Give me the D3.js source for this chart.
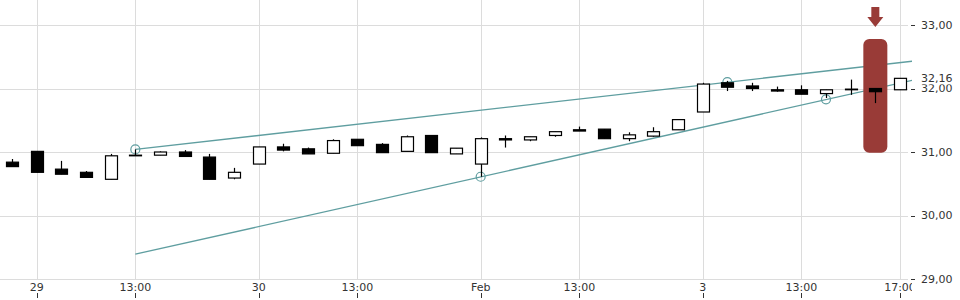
<!DOCTYPE html>
<html>
<head>
<meta charset="utf-8">
<script src="https://cdn.jsdelivr.net/npm/d3@7"></script>
<style>
  body { margin: 0; background: #fff; }
  svg { display: block; font-family: "DejaVu Sans", sans-serif; }
</style>
</head>
<body>
<svg id="chart"></svg>
<script>
var width = 960, height = 300;
var plotRight = 910, plotBottom = 279;

// hourly candles, 28 Jan 17:00 .. 3 Feb 17:00
var times = ["28 17:00",
  "29 09:00","29 10:00","29 11:00","29 12:00","29 13:00","29 14:00","29 15:00","29 16:00","29 17:00",
  "30 09:00","30 10:00","30 11:00","30 12:00","30 13:00","30 14:00","30 15:00","30 16:00","30 17:00",
  "01 09:00","01 10:00","01 11:00","01 12:00","01 13:00","01 14:00","01 15:00","01 16:00","01 17:00",
  "03 09:00","03 10:00","03 11:00","03 12:00","03 13:00","03 14:00","03 15:00","03 16:00","03 17:00"];
var open  = [30.84,31.01,30.73,30.68,30.57,30.94,30.95,31.00,30.92,30.59,30.81,31.08,31.05,30.98,31.20,31.12,31.01,31.26,30.97,
             30.81,31.21,31.19,31.26,31.35,31.36,31.21,31.25,31.35,31.63,32.09,32.04,31.98,31.98,31.92,31.99,32.00,31.98];
var high  = [30.89,31.01,30.86,30.70,30.97,31.04,31.01,31.03,30.97,30.75,31.08,31.13,31.07,31.20,31.20,31.14,31.26,31.26,31.06,
             31.23,31.26,31.24,31.32,31.40,31.36,31.31,31.39,31.51,32.09,32.12,32.09,32.03,32.05,31.98,32.14,32.00,32.16];
var low   = [30.77,30.68,30.65,30.60,30.57,30.94,30.95,30.93,30.57,30.57,30.81,31.01,30.97,30.98,31.10,30.99,31.01,30.99,30.97,
             30.61,31.07,31.17,31.24,31.33,31.21,31.17,31.24,31.35,31.63,31.96,31.96,31.95,31.91,31.85,31.90,31.77,31.98];
var close = [30.77,30.68,30.65,30.60,30.94,30.95,31.00,30.93,30.57,30.68,31.08,31.03,30.97,31.18,31.10,30.99,31.24,30.99,31.06,
             31.21,31.19,31.24,31.32,31.33,31.21,31.27,31.32,31.51,32.07,32.02,32.00,31.96,31.91,31.98,31.98,31.95,32.16];

var xTickIdx = [1, 5, 10, 14, 19, 23, 28, 32, 36];
var xTickLabels = ["29", "13:00", "30", "13:00", "Feb", "13:00", "3", "13:00", "17:00"];
var yTicks = [29, 30, 31, 32, 33];
var lastPrice = 32.16;

// trend lines (index, price) and the touch points marked by circles
var upperLine = [[5, 31.04], [36.5, 32.43]];
var lowerLine = [[5, 29.39], [36.5, 32.13]];
var touchPoints = [[5, 31.04], [29, 32.10], [19, 30.61], [33, 31.83]];
var markIdx = 35, markTop = 32.78, markBottom = 30.99;

var svg = d3.select("#chart").attr("width", width).attr("height", height);

var x = d3.scaleLinear().domain([0, times.length - 1]).range([12, 900]);
var y = d3.scaleLinear().domain([29, 33]).range([279, 25]);

var loc = d3.formatLocale({decimal: ",", thousands: ".", grouping: [3], currency: ["", ""]});
var fmt = loc.format(".2f");

svg.append("defs").append("clipPath").attr("id", "clip")
  .append("rect").attr("x", 0).attr("y", 0).attr("width", plotRight + 2).attr("height", plotBottom + 1);

// grid
var grid = svg.append("g");
grid.selectAll(".vg").data(xTickIdx).enter().append("line")
  .attr("x1", function(d){ return Math.round(x(d)) + 0.5; })
  .attr("x2", function(d){ return Math.round(x(d)) + 0.5; })
  .attr("y1", 0).attr("y2", plotBottom)
  .attr("stroke", "#dcdcdc");
grid.selectAll(".hg").data(yTicks).enter().append("line")
  .attr("x1", 0).attr("x2", 908)
  .attr("y1", function(d){ return Math.round(y(d)) + 0.5; })
  .attr("y2", function(d){ return Math.round(y(d)) + 0.5; })
  .attr("stroke", "#dcdcdc");

var plot = svg.append("g").attr("clip-path", "url(#clip)");

// trend lines
var line = d3.line().x(function(d){ return x(d[0]); }).y(function(d){ return y(d[1]); });
[upperLine, lowerLine].forEach(function(l){
  plot.append("path").attr("d", line(l)).attr("fill", "none")
    .attr("stroke", "#5f9ea0").attr("stroke-width", 1.3);
});
plot.selectAll(".touch").data(touchPoints).enter().append("circle")
  .attr("cx", function(d){ return x(d[0]); })
  .attr("cy", function(d){ return y(d[1]); })
  .attr("r", 4.5).attr("fill", "none").attr("stroke", "#5f9ea0").attr("stroke-width", 1.2);

// red marker
var mx = x(markIdx);
plot.append("rect")
  .attr("x", mx - 12).attr("width", 24)
  .attr("y", y(markTop)).attr("height", y(markBottom) - y(markTop))
  .attr("rx", 6).attr("fill", "#993b37");
svg.append("path")
  .attr("d", "M" + (mx - 4) + ",7 h8 v10 h4 l-8,10 l-8,-10 h4 z")
  .attr("fill", "#993b37");

// candles
var idx = d3.range(times.length);
var bw = 12;
plot.selectAll(".wick").data(idx).enter().append("line")
  .attr("x1", function(i){ return Math.round(x(i)) + 0.5; })
  .attr("x2", function(i){ return Math.round(x(i)) + 0.5; })
  .attr("y1", function(i){ return y(high[i]); })
  .attr("y2", function(i){ return y(low[i]); })
  .attr("stroke", "#000").attr("stroke-width", 1.2);
plot.selectAll(".body").data(idx).enter().append("rect")
  .attr("x", function(i){ return Math.round(x(i)) - bw / 2 + 0.5; })
  .attr("width", bw)
  .attr("y", function(i){ return y(Math.max(open[i], close[i])); })
  .attr("height", function(i){ return Math.max(0.1, Math.abs(y(open[i]) - y(close[i]))); })
  .attr("fill", function(i){ return close[i] >= open[i] ? "#fff" : "#000"; })
  .attr("stroke", "#000").attr("stroke-width", 1.2);

// y axis (right)
var yAxis = svg.append("g");
yAxis.selectAll(".yt").data(yTicks).enter().append("line")
  .attr("x1", 911).attr("x2", 915)
  .attr("y1", function(d){ return Math.round(y(d)) + 0.5; })
  .attr("y2", function(d){ return Math.round(y(d)) + 0.5; })
  .attr("stroke", "#333");
yAxis.selectAll(".yl").data(yTicks).enter().append("text")
  .attr("x", 921).attr("y", function(d){ return y(d); })
  .attr("dy", "0.35em").attr("font-size", 11).attr("fill", "#333")
  .text(function(d){ return fmt(d); });

// last price label
var lp = svg.append("g").attr("transform", "translate(919," + y(lastPrice) + ")");
lp.append("rect").attr("x", 0).attr("y", -6).attr("width", 40).attr("height", 12).attr("fill", "#fff");
lp.append("text").attr("x", 2).attr("dy", "0.35em").attr("font-size", 11).attr("fill", "#333")
  .text(fmt(lastPrice));

// x axis (bottom)
var xAxis = svg.append("g");
xAxis.selectAll(".xl").data(xTickIdx).enter().append("text")
  .attr("x", function(d){ return x(d); }).attr("y", 291)
  .attr("text-anchor", "middle").attr("font-size", 11).attr("fill", "#333")
  .text(function(d, k){ return xTickLabels[k]; });
xAxis.selectAll(".xt").data(xTickIdx).enter().append("line")
  .attr("x1", function(d){ return Math.round(x(d)) + 0.5; })
  .attr("x2", function(d){ return Math.round(x(d)) + 0.5; })
  .attr("y1", 293).attr("y2", 298)
  .attr("stroke", "#333");
// clip the last label like the reference
svg.append("rect").attr("x", 912).attr("y", 280).attr("width", 6).attr("height", 20).attr("fill", "#fff");
</script>
</body>
</html>
